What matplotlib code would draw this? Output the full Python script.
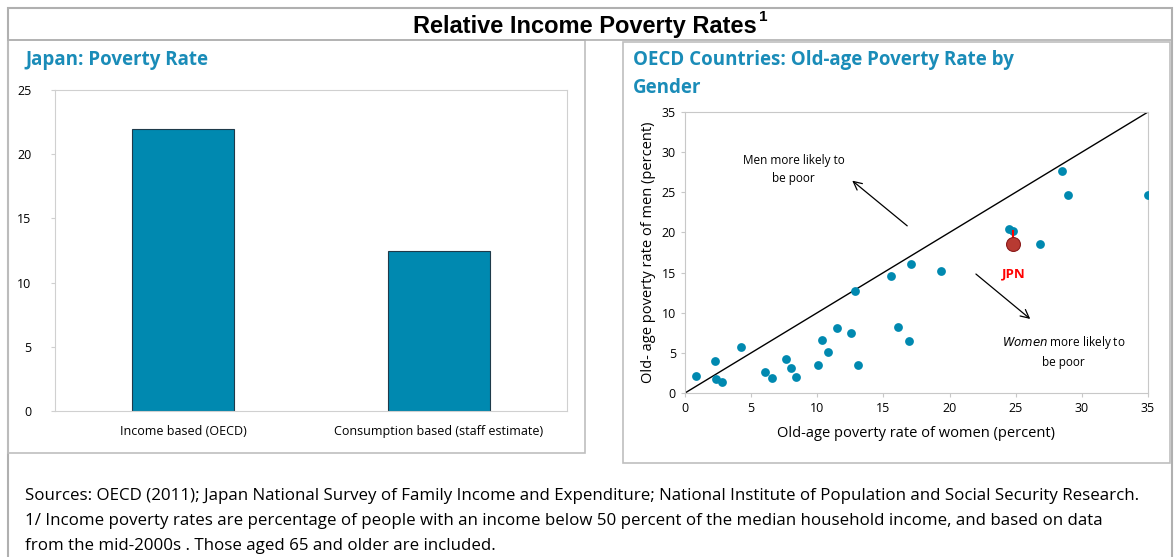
import matplotlib
matplotlib.use("Agg")
import matplotlib.pyplot as plt
from matplotlib.patches import Rectangle
from matplotlib.lines import Line2D

# ---- data ----
bar_categories = ["Income based (OECD)", "Consumption based (staff estimate)"]
bar_values = [22.0, 12.5]

women_rates = [0.85, 2.3, 2.35, 2.83, 4.27, 6.04, 6.6, 7.67, 8.04, 8.39, 10.07, 10.34,
               10.82, 11.51, 12.58, 12.88, 13.09, 15.6, 16.08, 16.91, 17.05, 19.32,
               24.53, 24.79, 26.82, 28.48, 28.93, 35.0]
men_rates = [2.17, 4.0, 1.75, 1.33, 5.75, 2.58, 1.83, 4.25, 3.08, 2.0, 3.54, 6.58,
             5.12, 8.04, 7.42, 12.75, 3.54, 14.63, 8.17, 6.5, 16.08, 15.25,
             20.42, 20.21, 18.58, 27.67, 24.67, 24.67]
jpn_women, jpn_men = [24.77], [18.5]

TEAL = "#0089B0"
SUB = "#1A8CB8"
GRAY = "#BFBFBF"

plt.rcParams['font.family'] = ['Open Sans', 'DejaVu Sans']

W, H = 1174, 557
fig = plt.figure(figsize=(W / 100, H / 100), dpi=100)

def px_rect(x0, y0, x1, y1, **kw):
    fig.patches.append(Rectangle((x0 / W, 1 - y1 / H), (x1 - x0) / W, (y1 - y0) / H,
                                 transform=fig.transFigure, fill=False, **kw))

def px_line(x0, y0, x1, y1, **kw):
    fig.lines.append(Line2D([x0 / W, x1 / W], [1 - y0 / H, 1 - y1 / H],
                            transform=fig.transFigure, **kw))

# frames
px_rect(8, 8, 1172, 570, edgecolor="#B0B0B0", linewidth=1.5)
px_line(8, 40, 1172, 40, color="#B0B0B0", linewidth=1.2)
px_rect(8, 40, 585, 453, edgecolor=GRAY, linewidth=1.2)
px_rect(623, 42, 1170, 463, edgecolor=GRAY, linewidth=1.2)

# titles
fig.text(413 / W, 1 - 26 / H, "Relative Income Poverty Rates", ha="left", va="center",
         fontsize=17, fontweight="bold", family="Liberation Sans")
fig.text(759 / W, 1 - 17 / H, "1", ha="left", va="center",
         fontsize=11, fontweight="bold", family="Liberation Sans")
fig.text(25 / W, 1 - 60 / H, "Japan: Poverty Rate", ha="left", va="center",
         fontsize=13.5, fontweight="bold", color=SUB)
fig.text(633 / W, 1 - 60 / H, "OECD Countries: Old-age Poverty Rate by", ha="left",
         va="center", fontsize=13.5, fontweight="bold", color=SUB)
fig.text(633 / W, 1 - 88 / H, "Gender", ha="left", va="center",
         fontsize=13.5, fontweight="bold", color=SUB)

# ---- bar chart ----
ax1 = fig.add_axes([55 / W, 1 - 411 / H, (567 - 55) / W, (411 - 90) / H])
ax1.bar(range(len(bar_values)), bar_values, width=0.4, color=TEAL,
        edgecolor="#1F3A4A", linewidth=0.8)
ax1.set_xlim(-0.5, 1.5)
ax1.set_ylim(0, 25)
ax1.set_yticks([0, 5, 10, 15, 20, 25])
ax1.set_xticks(range(len(bar_categories)))
ax1.set_xticklabels(bar_categories, fontsize=9)
for s in ax1.spines.values():
    s.set_color("#D0D0D0")
ax1.tick_params(axis="y", labelsize=9, length=3, color="#D0D0D0", pad=14)
ax1.tick_params(axis="x", length=0, pad=10)

# ---- scatter ----
ax2 = fig.add_axes([685 / W, 1 - 393 / H, (1148 - 685) / W, (393 - 112) / H])
ax2.plot([0, 35], [0, 35], color="black", linewidth=1.0)
ax2.scatter(women_rates, men_rates, s=40, color=TEAL, zorder=3, linewidths=0)
ax2.plot([jpn_women[0], jpn_women[0]], [jpn_men[0], 20.2], color="red", linewidth=1.5, zorder=3)
ax2.scatter(jpn_women, jpn_men, s=100, color="#B83A32", edgecolors="#8B1A1A",
            linewidths=0.8, zorder=4)
ax2.set_xlim(0, 35)
ax2.set_ylim(0, 35)
ax2.set_xticks(range(0, 36, 5))
ax2.set_yticks(range(0, 36, 5))
for s in ax2.spines.values():
    s.set_color("#C8C8C8")
ax2.tick_params(labelsize=9, length=3, color="#C8C8C8")
ax2.set_xlabel("Old-age poverty rate of women (percent)", fontsize=10.5, labelpad=8)
ax2.set_ylabel("Old- age poverty rate of men (percent)", fontsize=10.5, labelpad=4)

arrow = dict(arrowstyle="->,head_length=0.6,head_width=0.3", color="black", lw=0.9)
ax2.annotate("", xy=(12.48, 26.67), xytext=(16.96, 20.6), arrowprops=arrow)
ax2.annotate("", xy=(26.26, 9.0), xytext=(21.83, 15.04), arrowprops=arrow)
ax2.text(8.2, 27.8, "Men more likely to\nbe poor", ha="center", va="center",
         fontsize=8.5, linespacing=1.5)
ax2.text(28.6, 5.2, "$\\it{Women}$ more likely to\nbe poor", ha="center", va="center",
         fontsize=8.5, linespacing=1.5)
ax2.text(24.85, 14.8, "JPN", ha="center", va="center", fontsize=9.5,
         fontweight="bold", color="red")

# ---- footnotes ----
notes = ["Sources: OECD (2011); Japan National Survey of Family Income and Expenditure; National Institute of Population and Social Security Research.",
         "1/ Income poverty rates are percentage of people with an income below 50 percent of the median household income, and based on data",
         "from the mid-2000s . Those aged 65 and older are included."]
for i, t in enumerate(notes):
    fig.text(25 / W, 1 - (496 + 25 * i) / H, t, ha="left", va="center", fontsize=12.2)

fig.savefig("out.png", dpi=100)
